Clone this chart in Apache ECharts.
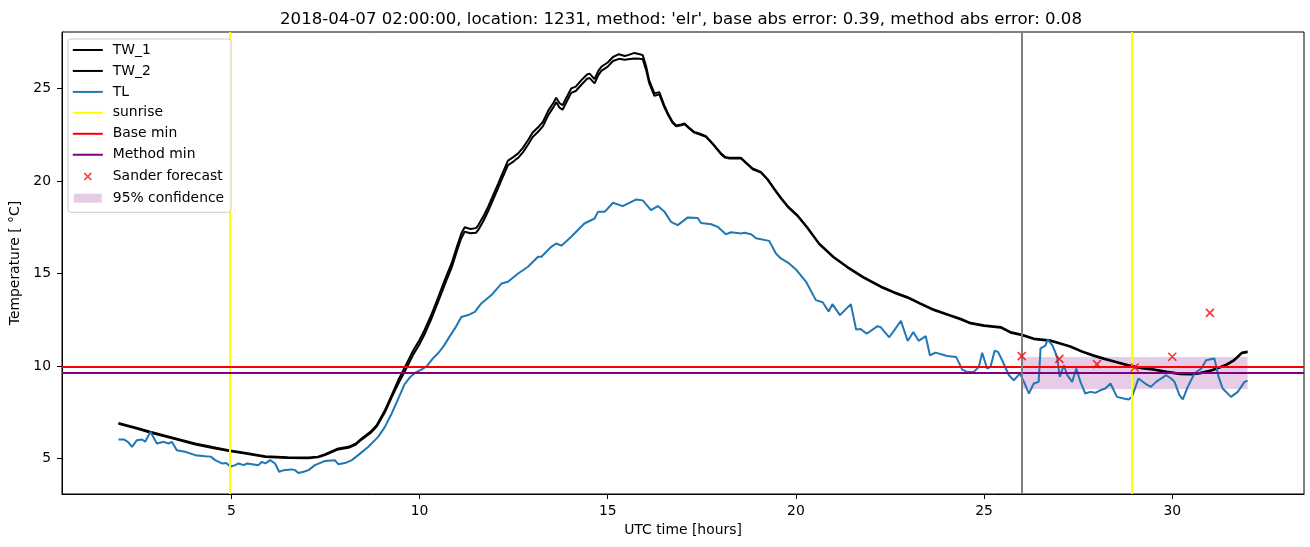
<!DOCTYPE html>
<html><head><meta charset="utf-8">
<script src="https://cdn.jsdelivr.net/npm/echarts@6/dist/echarts.min.js"></script>
<style>html,body{margin:0;padding:0;background:#fff}#c{width:1310px;height:547px}</style>
</head><body><div id="c"></div>
<script>
// ---- data ----
const twTime = [2.0,2.5,2.85,3.5,4.04,4.5,4.93,5.4,5.9,6.5,7.05,7.3,7.49,7.84,8.11,8.3,8.46,8.7,8.86,9.08,9.26,9.45,9.65,9.85,10.0,10.13,10.3,10.5,10.7,10.85,11.0,11.11,11.2,11.35,11.5,11.56,11.7,11.82,11.95,12.09,12.2,12.35,12.5,12.62,12.75,12.88,13.0,13.15,13.28,13.42,13.55,13.63,13.72,13.8,13.9,14.03,14.15,14.3,14.45,14.52,14.65,14.75,14.83,15.0,15.14,15.3,15.45,15.54,15.71,15.85,15.93,16.02,16.1,16.24,16.37,16.5,16.6,16.72,16.82,16.95,17.04,17.15,17.3,17.45,17.61,17.8,18.01,18.12,18.23,18.54,18.7,18.85,19.07,19.25,19.42,19.6,19.8,20.04,20.3,20.62,21.0,21.37,21.8,22.25,22.6,22.96,23.3,23.67,24.1,24.38,24.64,25.0,25.44,25.7,26.0,26.32,26.76,27.0,27.29,27.6,27.91,28.2,28.53,28.93,29.2,29.5,29.85,30.21,30.5,30.74,31.0,31.27,31.45,31.63,31.85,32.0];
const tw1Temp = [6.92,6.65,6.44,6.1,5.81,5.62,5.45,5.3,5.12,5.07,5.05,5.1,5.23,5.54,5.63,5.8,6.08,6.45,6.8,7.61,8.42,9.3,10.1,10.9,11.4,11.93,12.7,13.74,14.8,15.54,16.5,17.16,17.5,17.4,17.45,17.6,18.1,18.6,19.2,19.86,20.4,21.1,21.3,21.49,21.8,22.2,22.6,22.9,23.2,23.8,24.2,24.5,24.2,24.1,24.5,25.0,25.1,25.45,25.75,25.8,25.5,25.95,26.17,26.4,26.7,26.85,26.75,26.8,26.92,26.85,26.8,26.2,25.45,24.73,24.8,24.1,23.65,23.2,23.0,23.05,23.1,22.9,22.65,22.55,22.42,22.0,21.49,21.3,21.25,21.25,20.95,20.67,20.49,20.1,19.6,19.1,18.6,18.15,17.5,16.62,15.9,15.36,14.8,14.31,14.0,13.73,13.4,13.05,12.75,12.55,12.33,12.2,12.11,11.84,11.7,11.49,11.39,11.25,11.07,10.8,10.58,10.4,10.22,10.0,9.9,9.83,9.7,9.59,9.58,9.63,9.75,9.95,10.1,10.31,10.73,10.78];
const tw2Temp = [6.87,6.6,6.39,6.05,5.76,5.57,5.4,5.25,5.08,5.03,5.01,5.06,5.19,5.49,5.58,5.74,6.02,6.38,6.72,7.5,8.3,9.1,9.88,10.68,11.18,11.7,12.48,13.5,14.56,15.3,16.26,16.92,17.25,17.17,17.2,17.35,17.85,18.36,18.96,19.62,20.16,20.85,21.06,21.25,21.56,21.96,22.36,22.66,22.96,23.56,23.96,24.26,23.96,23.85,24.25,24.76,24.86,25.2,25.52,25.56,25.27,25.72,25.95,26.18,26.48,26.6,26.55,26.58,26.62,26.6,26.58,26.0,25.3,24.6,24.68,24.0,23.58,23.15,22.96,23.01,23.06,22.86,22.61,22.51,22.38,21.96,21.45,21.26,21.21,21.21,20.91,20.63,20.45,20.06,19.56,19.06,18.56,18.11,17.46,16.58,15.86,15.32,14.76,14.27,13.96,13.69,13.36,13.01,12.71,12.51,12.29,12.16,12.07,11.8,11.66,11.45,11.35,11.21,11.03,10.76,10.54,10.36,10.18,9.96,9.86,9.79,9.66,9.55,9.54,9.59,9.71,9.91,10.06,10.27,10.69,10.74];
const tlTime = [2.0,2.14,2.25,2.36,2.49,2.63,2.71,2.85,3.02,3.2,3.33,3.42,3.55,3.77,4.04,4.3,4.45,4.57,4.75,4.87,4.97,5.1,5.19,5.33,5.42,5.72,5.81,5.9,6.03,6.16,6.27,6.39,6.6,6.69,6.78,6.92,7.05,7.22,7.49,7.75,7.84,8.02,8.2,8.37,8.64,8.9,9.08,9.26,9.45,9.6,9.75,9.9,10.05,10.2,10.35,10.5,10.65,10.8,10.94,11.11,11.29,11.47,11.64,11.91,12.18,12.35,12.62,12.88,13.15,13.24,13.5,13.63,13.77,14.03,14.38,14.65,14.74,14.92,15.14,15.4,15.76,15.93,16.15,16.33,16.51,16.68,16.86,17.13,17.39,17.48,17.75,17.92,18.14,18.28,18.54,18.63,18.81,18.94,19.29,19.47,19.6,19.82,20.0,20.27,20.53,20.71,20.87,20.97,21.17,21.46,21.6,21.72,21.88,22.17,22.25,22.48,22.79,22.97,23.12,23.26,23.45,23.56,23.71,24.02,24.26,24.42,24.55,24.73,24.86,24.95,25.08,25.17,25.28,25.37,25.48,25.66,25.79,25.95,26.06,26.19,26.32,26.45,26.5,26.63,26.69,26.82,26.94,27.01,27.12,27.21,27.34,27.45,27.56,27.69,27.82,27.96,28.09,28.22,28.36,28.53,28.71,28.84,28.93,29.1,29.28,29.43,29.57,29.7,29.84,29.97,30.06,30.19,30.28,30.41,30.59,30.77,30.9,31.12,31.23,31.34,31.56,31.74,31.92,32.0];
const tlTemp = [6.03,6.03,5.9,5.63,5.99,6.03,5.9,6.44,5.81,5.9,5.81,5.9,5.45,5.36,5.18,5.12,5.1,4.91,4.73,4.75,4.55,4.64,4.73,4.64,4.73,4.64,4.82,4.73,4.91,4.73,4.28,4.37,4.41,4.37,4.22,4.28,4.37,4.64,4.87,4.91,4.69,4.75,4.91,5.18,5.63,6.17,6.71,7.43,8.3,9.0,9.4,9.65,9.8,10.0,10.4,10.7,11.1,11.6,12.03,12.65,12.75,12.92,13.38,13.83,14.46,14.55,15.0,15.36,15.9,15.9,16.44,16.62,16.5,16.98,17.7,17.97,18.33,18.33,18.82,18.64,19.0,18.95,18.42,18.64,18.33,17.79,17.61,18.03,18.0,17.73,17.66,17.52,17.12,17.23,17.16,17.2,17.12,16.9,16.76,16.08,15.81,15.54,15.22,14.55,13.56,13.44,12.94,13.34,12.75,13.34,11.97,12.0,11.74,12.15,12.1,11.55,12.44,11.35,11.84,11.36,11.61,10.58,10.72,10.54,10.48,9.8,9.68,9.68,9.95,10.71,9.86,9.95,10.82,10.76,10.31,9.5,9.23,9.59,9.14,8.51,9.05,9.14,10.95,11.1,11.43,11.1,10.49,9.41,10.04,9.5,9.14,9.86,9.14,8.51,8.6,8.55,8.69,8.78,9.05,8.33,8.24,8.19,8.33,9.32,9.05,8.87,9.14,9.32,9.5,9.32,9.14,8.42,8.19,8.87,9.59,9.86,10.31,10.4,9.41,8.78,8.33,8.6,9.14,9.2];
const sunriseTimes = [4.97, 28.93];
const issueTime = [26];
const baseMin = [9.96];
const methodMin = [9.65];
const sanderTime = [26, 27, 28, 29, 30, 31];
const sanderTemp = [10.53, 10.38, 10.1, 9.92, 10.5, 12.87];
const bandTime = [26, 32];
const bandLow = [8.76];
const bandHigh = [10.48];
const xTicks = [5, 10, 15, 20, 25, 30];
const yTicks = [5, 10, 15, 20, 25];
const titleText = "2018-04-07 02:00:00, location: 1231, method: 'elr', base abs error: 0.39, method abs error: 0.08";

const zip = (a, b) => a.map((v, i) => [v, b[i]]);
const FONT = 'DejaVu Sans';
const FS = 13.9;
const LINE_ICON = 'path://M0,0 M0,6 L30,6 L30,8 L0,8 Z M30,14';
const X_ICON = 'path://M0,0 M11.5,3.5 L18.5,10.5 M18.5,3.5 L11.5,10.5 M30,14';
const PATCH_ICON = 'path://M0,0 M1,2.5 L29,2.5 L29,11.5 L1,11.5 Z M30,14';

const chart = echarts.init(document.getElementById('c'), null, {renderer: 'canvas'});
const axisCommon = {
  axisLine: {show: true, lineStyle: {color: '#000', width: 1}},
  axisTick: {show: true, length: 5, lineStyle: {color: '#000', width: 1}},
  splitLine: {show: false},
  nameTextStyle: {fontFamily: FONT, fontSize: FS, color: '#000'}
};
chart.setOption({
  animation: false,
  backgroundColor: '#fff',
  title: {
    text: titleText, left: 676, top: 6, textAlign: 'center',
    textStyle: {fontFamily: FONT, fontSize: 16.6, fontWeight: 'normal', color: '#000'}
  },
  grid: {left: 62, right: 6, top: 32, bottom: 53, show: true, borderColor: '#000', borderWidth: 1,
         containLabel: false, outerBoundsMode: 'none'},
  xAxis: Object.assign({}, axisCommon, {
    type: 'value', min: 0.5, max: 33.5,
    axisTick: Object.assign({}, axisCommon.axisTick, {customValues: xTicks}),
    axisLabel: {customValues: xTicks, margin: 10, fontFamily: FONT, fontSize: FS, color: '#000'},
    name: 'UTC time [hours]', nameLocation: 'middle', nameGap: 28
  }),
  yAxis: Object.assign({}, axisCommon, {
    type: 'value', min: 3.08, max: 28.05,
    axisTick: Object.assign({}, axisCommon.axisTick, {customValues: yTicks}),
    axisLabel: {customValues: yTicks, margin: 11, fontFamily: FONT, fontSize: FS, color: '#000'},
    name: 'Temperature [ °C]', nameLocation: 'middle', nameGap: 36
  }),
  legend: {
    orient: 'vertical', left: 68, top: 39,
    padding: [4, 7, 7, 4], itemWidth: 30, itemHeight: 14, itemGap: 6.95,
    backgroundColor: 'rgba(255,255,255,0.8)', borderColor: '#cccccc', borderWidth: 1, borderRadius: 3,
    symbolKeepAspect: false, z: 20,
    textStyle: {fontFamily: FONT, fontSize: FS, lineHeight: 14, color: '#000', padding: [0, 0, 0, 5]},
    data: [
      {name: 'TW_1', icon: LINE_ICON, itemStyle: {color: '#000', borderWidth: 0}},
      {name: 'TW_2', icon: LINE_ICON, itemStyle: {color: '#000', borderWidth: 0}},
      {name: 'TL', icon: LINE_ICON, itemStyle: {color: '#1f77b4', borderWidth: 0}},
      {name: 'sunrise', icon: LINE_ICON, itemStyle: {color: '#ffff00', borderWidth: 0}},
      {name: 'Base min', icon: LINE_ICON, itemStyle: {color: '#ff0000', borderWidth: 0}},
      {name: 'Method min', icon: LINE_ICON, itemStyle: {color: '#800080', borderWidth: 0}},
      {name: 'Sander forecast', icon: X_ICON, itemStyle: {color: 'rgba(0,0,0,0)', borderColor: '#ff0000', borderWidth: 1.6}},
      {name: '95% confidence', icon: PATCH_ICON, itemStyle: {color: '#e6cce6', borderWidth: 0}}
    ]
  },
  series: [
    {name: '95% confidence', type: 'line', data: [], z: 1,
     markArea: {silent: true, itemStyle: {color: 'rgba(128,0,128,0.2)'},
       data: [[{xAxis: bandTime[0], yAxis: bandLow[0]}, {xAxis: bandTime[1], yAxis: bandHigh[0]}]]}},
    {name: 'TW_1', type: 'line', data: zip(twTime, tw1Temp), symbol: 'none', z: 2,
     lineStyle: {color: '#000', width: 2}, itemStyle: {color: '#000'}},
    {name: 'TW_2', type: 'line', data: zip(twTime, tw2Temp), symbol: 'none', z: 3,
     lineStyle: {color: '#000', width: 2}, itemStyle: {color: '#000'}},
    {name: 'TL', type: 'line', data: zip(tlTime, tlTemp), symbol: 'none', z: 4,
     lineStyle: {color: '#1f77b4', width: 2}, itemStyle: {color: '#1f77b4'}},
    {name: 'sunrise', type: 'line', data: [], z: 5, itemStyle: {color: '#ffff00'},
     markLine: {silent: true, symbol: ['none', 'none'], label: {show: false},
       lineStyle: {color: '#ffff00', width: 2, type: 'solid'},
       data: sunriseTimes.map(t => ({xAxis: t}))}},
    {name: 'Base min', type: 'line', data: [], z: 6, itemStyle: {color: '#ff0000'},
     markLine: {silent: true, symbol: ['none', 'none'], label: {show: false},
       lineStyle: {color: '#ff0000', width: 2, type: 'solid'},
       data: baseMin.map(v => ({yAxis: v}))}},
    {name: 'Method min', type: 'line', data: [], z: 7, itemStyle: {color: '#800080'},
     markLine: {silent: true, symbol: ['none', 'none'], label: {show: false},
       lineStyle: {color: '#800080', width: 2, type: 'solid'},
       data: methodMin.map(v => ({yAxis: v}))}},
    {name: 'issue', type: 'line', data: [], z: 5, itemStyle: {color: '#808080'},
     markLine: {silent: true, symbol: ['none', 'none'], label: {show: false},
       lineStyle: {color: '#808080', width: 2, type: 'solid'},
       data: issueTime.map(t => ({xAxis: t}))}},
    {name: 'Sander forecast', type: 'scatter', data: zip(sanderTime, sanderTemp), z: 9,
     symbol: 'path://M0,0 L10,10 M10,0 L0,10', symbolSize: 8,
     itemStyle: {color: 'rgba(0,0,0,0)', borderColor: '#ff0000', borderWidth: 1.6}}
  ]
});
</script></body></html>
